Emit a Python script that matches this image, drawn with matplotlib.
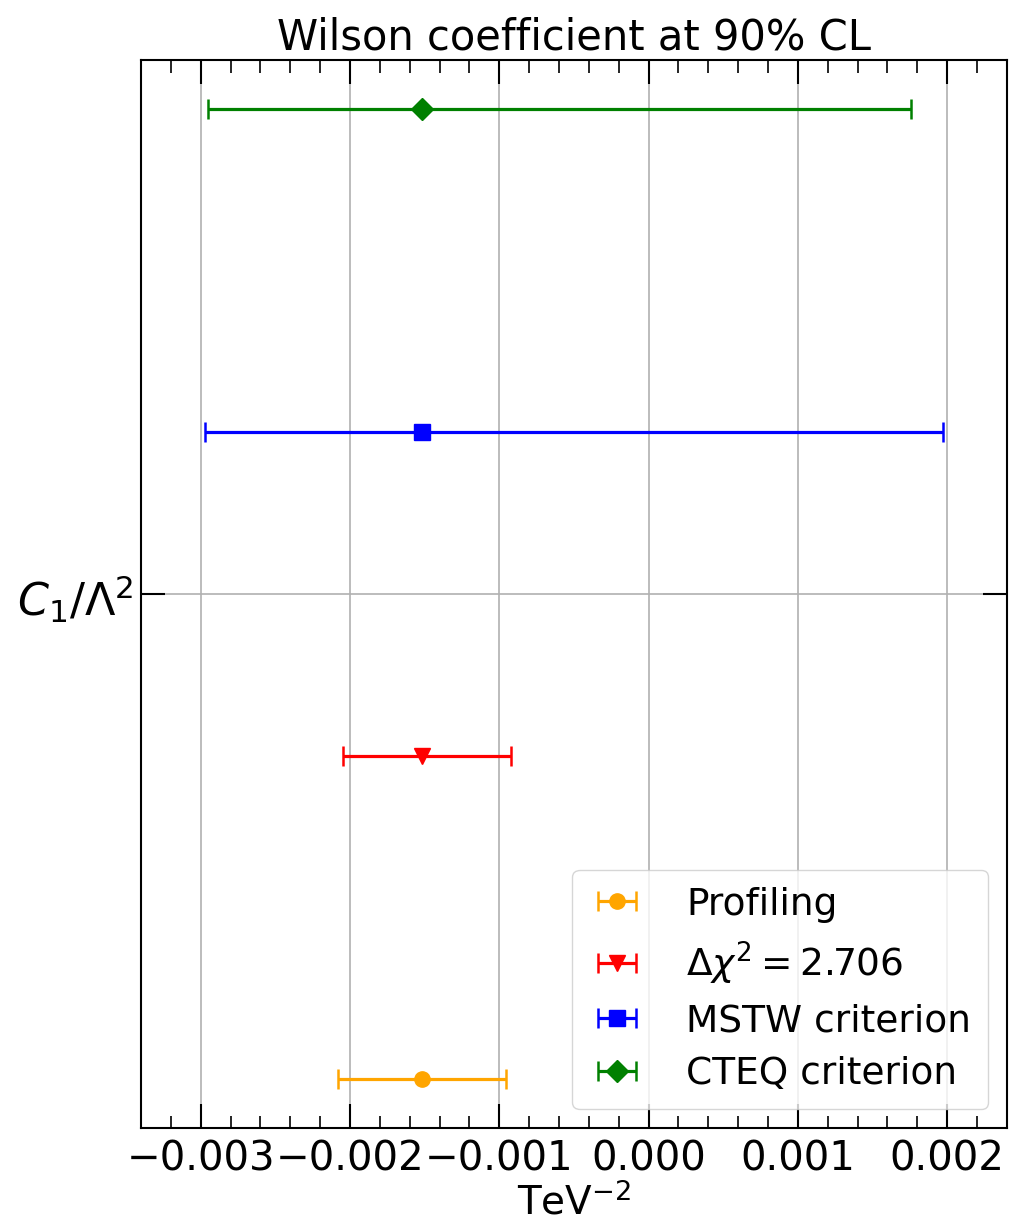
import matplotlib
matplotlib.use("Agg")
import matplotlib.pyplot as plt
from matplotlib.ticker import MultipleLocator

labels = ['Profiling', r'$\Delta\chi^2 = 2.706$', 'MSTW criterion', 'CTEQ criterion']
colors = ['orange', 'red', 'blue', 'green']
markers = ['o', 'v', 's', 'D']
ypos = [-0.3, -0.1, 0.1, 0.3]
center = [-0.00152, -0.00152, -0.00152, -0.00152]
lower = [-0.00208, -0.00205, -0.00297, -0.00295]
upper = [-0.000957, -0.000924, 0.00197, 0.00176]

plt.rcParams['font.size'] = 28

fig = plt.figure(figsize=(10.14, 12.23), dpi=100)
ax = fig.add_axes([0.139, 0.0777, 0.854, 0.873])

for i in range(len(labels)):
    err = [[center[i] - lower[i]], [upper[i] - center[i]]]
    ax.errorbar([center[i]], [ypos[i]], xerr=err, fmt=markers[i], color=colors[i],
                markersize=11, elinewidth=2.3, capsize=7, capthick=1.8, label=labels[i])

ax.set_xlim(-0.0034, 0.0024)
ax.set_ylim(-0.33, 0.33)
ax.xaxis.set_major_locator(MultipleLocator(0.001))
ax.xaxis.set_minor_locator(MultipleLocator(0.0002))
ax.set_yticks([0])
ax.set_yticklabels([r'$C_1/\Lambda^2$'], fontsize=32)
ax.tick_params(axis='x', which='major', direction='in', top=True, bottom=True,
               length=17, width=1.5, pad=8, labelsize=29)
ax.tick_params(axis='x', which='minor', direction='in', top=True, bottom=True, length=9, width=1.2)
ax.tick_params(axis='y', which='major', direction='in', left=True, right=True, length=17, width=1.5, pad=5)
for s in ax.spines.values():
    s.set_linewidth(1.5)
ax.grid(True, color='#b0b0b0', linewidth=1.2)
ax.set_axisbelow(True)
ax.set_xlabel(r'TeV$^{-2}$', fontsize=28, labelpad=3)
ax.set_title('Wilson coefficient at 90% CL', fontsize=30, pad=8)
ax.legend(loc='lower right', fontsize=27, handlelength=1.5, handletextpad=1.1,
          borderpad=0.45, labelspacing=0.45)

fig.savefig('out.png')
